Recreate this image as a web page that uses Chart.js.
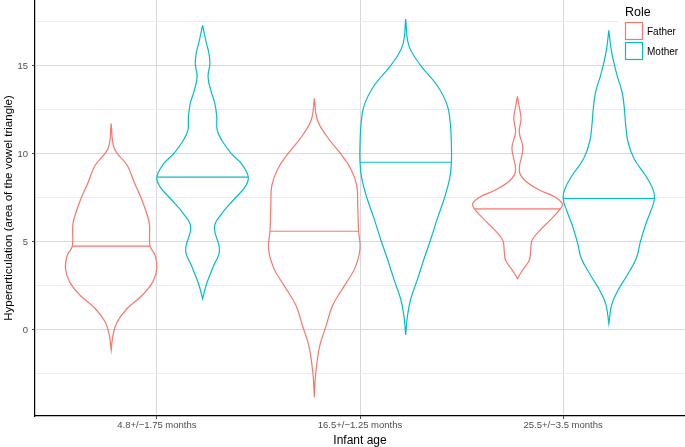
<!DOCTYPE html>
<html>
<head>
<meta charset="utf-8">
<script src="https://cdn.jsdelivr.net/npm/chart.js@4.4.0/dist/chart.umd.min.js"></script>
<style>
  html, body { margin: 0; padding: 0; background: #fff; }
</style>
</head>
<body>
<canvas id="chart" width="685" height="447"></canvas>
<script>
// categories
const ageGroups = ["4.8+/\u22121.75 months", "16.5+/\u22121.25 months", "25.5+/\u22123.5 months"];
const roles = ["Father", "Mother"];
const roleColors = ["#F8766D", "#00BFC4"];
const yTicks = [-2.5, 0, 2.5, 5, 7.5, 10, 12.5, 15, 17.5];

// violin outlines: y values (top to bottom) and relative density width
const father1Y = [11.73, 10.31, 9.36, 8.41, 7.47, 6.52, 5.95, 4.76, 4.25, 3.49, 2.73, 1.97, 1.22, 0.45, -0.30, -1.15];
const father1W = [0, 0.07, 0.35, 0.50, 0.66, 0.79, 0.84, 0.85, 0.96, 1.0, 0.91, 0.68, 0.35, 0.13, 0.04, 0];
const mother1Y = [17.31, 16.46, 15.70, 15.14, 14.38, 13.62, 12.86, 12.10, 11.35, 10.78, 10.02, 9.45, 8.69, 8.13, 7.37, 6.61, 5.85, 4.53, 3.58, 2.64, 1.78];
const mother1W = [0, 0.07, 0.14, 0.16, 0.12, 0.18, 0.27, 0.31, 0.32, 0.42, 0.63, 0.85, 1.0, 0.93, 0.67, 0.42, 0.26, 0.37, 0.23, 0.09, 0];

const father2Y = [13.16, 11.99, 11.05, 10.10, 9.15, 8.20, 7.07, 5.61, 4.60, 3.47, 2.52, 1.39, 0.25, -0.89, -2.02, -2.78, -3.82];
const father2W = [0, 0.06, 0.26, 0.55, 0.80, 0.93, 0.95, 0.97, 1.0, 0.88, 0.66, 0.40, 0.26, 0.12, 0.05, 0.02, 0];
const mother2Y = [17.67, 16.16, 15.02, 13.89, 12.75, 11.61, 10.48, 9.53, 8.58, 7.44, 6.31, 5.17, 4.03, 2.90, 1.76, 0.82, -0.28];
const mother2W = [0, 0.07, 0.33, 0.69, 0.91, 0.98, 1.0, 1.0, 0.96, 0.84, 0.69, 0.55, 0.40, 0.26, 0.11, 0.04, 0];

const father3Y = [13.28, 12.67, 12.01, 11.25, 10.31, 9.07, 8.51, 7.94, 7.56, 7.18, 6.88, 6.23, 5.66, 5.10, 4.53, 3.96, 3.39, 2.92];
const father3W = [0, 0.04, 0.08, 0.04, 0.12, 0.04, 0.16, 0.49, 0.82, 0.98, 0.94, 0.71, 0.49, 0.32, 0.29, 0.26, 0.11, 0];
const mother3Y = [17.03, 15.80, 14.47, 13.52, 12.58, 11.63, 10.68, 9.74, 8.79, 8.03, 7.47, 6.70, 5.95, 5.00, 4.06, 3.11, 2.16, 1.41, 0.36];
const mother3W = [0, 0.06, 0.18, 0.29, 0.34, 0.37, 0.42, 0.55, 0.80, 0.96, 1.0, 0.91, 0.80, 0.69, 0.60, 0.40, 0.18, 0.06, 0];

const fatherMedians = [4.76, 5.61, 6.88];
const motherMedians = [8.69, 9.53, 7.47];

const fatherShapes = [[father1Y, father1W], [father2Y, father2W], [father3Y, father3W]];
const motherShapes = [[mother1Y, mother1W], [mother2Y, mother2W], [mother3Y, mother3W]];

// dodge offset and max half width, in category units
const dodge = 0.225;
const maxHalf = 0.225;

function outline(center, ys, ws) {
  const right = ys.map((y, i) => ({ x: center + ws[i] * maxHalf, y: y }));
  const left = ys.map((y, i) => ({ x: center - ws[i] * maxHalf, y: y })).reverse();
  return right.concat(left);
}

// width of the violin at the median, from the outline
function widthAt(ys, ws, v) {
  for (let i = 0; i < ys.length - 1; i++) {
    if (v <= ys[i] && v >= ys[i + 1]) {
      const t = (ys[i] - v) / (ys[i] - ys[i + 1]);
      return ws[i] + t * (ws[i + 1] - ws[i]);
    }
  }
  return 0;
}

const datasets = [];
[fatherShapes, motherShapes].forEach((shapes, r) => {
  const meds = r === 0 ? fatherMedians : motherMedians;
  const off = r === 0 ? -dodge : dodge;
  shapes.forEach((s, g) => {
    const c = g + 1 + off;
    datasets.push({
      label: roles[r],
      data: outline(c, s[0], s[1]),
      showLine: true,
      borderColor: roleColors[r],
      borderWidth: 1.2,
      pointRadius: 0,
      tension: 0.4,
      fill: false
    });
    const hw = widthAt(s[0], s[1], meds[g]) * maxHalf;
    datasets.push({
      label: roles[r] + " median",
      data: [{ x: c - hw, y: meds[g] }, { x: c + hw, y: meds[g] }],
      showLine: true,
      borderColor: roleColors[r],
      borderWidth: 1.2,
      pointRadius: 0,
      tension: 0
    });
  });
});

// legend drawn inside the panel, top right, on a white box
const roleLegend = {
  id: 'roleLegend',
  afterDraw(chart) {
    const ctx = chart.ctx;
    const right = chart.chartArea.right;
    const top = chart.chartArea.top;
    ctx.save();
    ctx.fillStyle = '#fff';
    ctx.fillRect(right - 67, top, 67, 69);
    ctx.fillStyle = '#000';
    ctx.font = '12.5px "Liberation Sans", Arial, sans-serif';
    ctx.textBaseline = 'middle';
    ctx.fillText('Role', right - 60, top + 13);
    roles.forEach((name, i) => {
      const y = top + 22 + i * 20;
      ctx.strokeStyle = roleColors[i];
      ctx.lineWidth = 1.2;
      ctx.strokeRect(right - 59.5, y + 0.5, 17, 17);
      ctx.fillStyle = '#000';
      ctx.font = '10px "Liberation Sans", Arial, sans-serif';
      ctx.fillText(name, right - 38, y + 10);
    });
    ctx.restore();
  }
};

new Chart(document.getElementById('chart'), {
  type: 'scatter',
  data: { datasets: datasets },
  options: {
    responsive: false,
    animation: false,
    devicePixelRatio: 1,
    layout: { padding: 0 },
    plugins: {
      legend: { display: false },
      tooltip: { enabled: false }
    },
    scales: {
      x: {
        type: 'linear',
        min: 0.4,
        max: 3.6,
        afterBuildTicks: axis => { axis.ticks = [1, 2, 3].map(v => ({ value: v })); },
        afterFit: axis => { axis.height = 31; axis.paddingLeft = 0; axis.paddingRight = 0; },
        ticks: {
          callback: v => ageGroups[v - 1],
          autoSkip: false,
          maxRotation: 0,
          padding: 1,
          color: '#4d4d4d',
          font: { family: '"Liberation Sans", Arial, sans-serif', size: 9.5 }
        },
        grid: { color: '#d9d9d9', lineWidth: 1, tickLength: 3, tickColor: '#4d4d4d' },
        border: { color: '#000', width: 1.2 },
        title: {
          display: true,
          text: 'Infant age',
          color: '#000',
          padding: { top: 3, bottom: 0 },
          font: { family: '"Liberation Sans", Arial, sans-serif', size: 12, lineHeight: 1 }
        }
      },
      y: {
        min: -4.89,
        max: 18.75,
        afterBuildTicks: axis => { axis.ticks = yTicks.map(v => ({ value: v })); },
        afterFit: axis => { axis.width = 35; axis.paddingTop = 0; axis.paddingBottom = 0; },
        ticks: {
          callback: v => (v % 5 === 0 ? String(v) : ''),
          padding: 4,
          color: '#4d4d4d',
          font: { family: '"Liberation Sans", Arial, sans-serif', size: 9.5 }
        },
        grid: {
          color: c => (c.tick && c.tick.value % 5 === 0 ? '#d9d9d9' : '#ededed'),
          tickColor: c => (c.tick && c.tick.value % 5 === 0 ? '#4d4d4d' : 'rgba(0,0,0,0)'),
          lineWidth: 1,
          tickLength: 3
        },
        border: { color: '#000', width: 1.2 },
        title: {
          display: true,
          text: 'Hyperarticulation (area of the vowel triangle)',
          color: '#000',
          padding: { top: 2, bottom: 0 },
          font: { family: '"Liberation Sans", Arial, sans-serif', size: 11.5 }
        }
      }
    }
  },
  plugins: [roleLegend]
});
</script>
</body>
</html>
